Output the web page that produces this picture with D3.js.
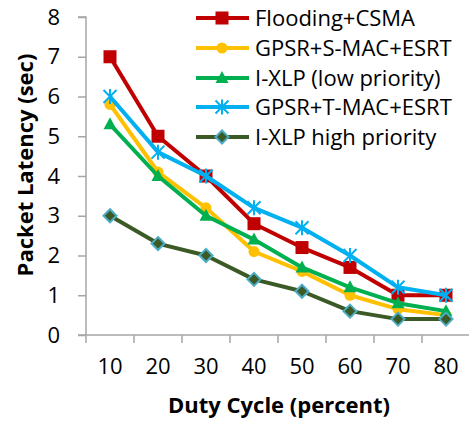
<!DOCTYPE html>
<html><head><meta charset="utf-8">
<script src="https://cdn.jsdelivr.net/npm/d3@7"></script>
<style>body{margin:0;background:#fff}svg{display:block}</style>
</head><body>
<svg id="c" width="469" height="423"></svg>
<script>
const categories = ["10","20","30","40","50","60","70","80"];
const yTicks = [0,1,2,3,4,5,6,7,8];
const seriesNames = ["Flooding+CSMA","GPSR+S-MAC+ESRT","I-XLP (low priority)","GPSR+T-MAC+ESRT","I-XLP high priority"];
const flooding = [7.0, 5.0, 4.0, 2.8, 2.2, 1.7, 1.0, 1.0];
const gpsrSmac = [5.8, 4.1, 3.2, 2.1, 1.6, 1.0, 0.65, 0.5];
const ixlpLow  = [5.3, 4.0, 3.0, 2.4, 1.7, 1.2, 0.8, 0.6];
const gpsrTmac = [6.0, 4.6, 4.0, 3.2, 2.7, 2.0, 1.2, 1.0];
const ixlpHigh = [3.0, 2.3, 2.0, 1.4, 1.1, 0.6, 0.4, 0.4];

const styles = [
  {color:"#C00000", marker:"square"},
  {color:"#FFC000", marker:"circle"},
  {color:"#00B050", marker:"triangle"},
  {color:"#00B0F0", marker:"star"},
  {color:"#3B5A26", marker:"diamond"}
];
const seriesData = [flooding, gpsrSmac, ixlpLow, gpsrTmac, ixlpHigh];

const svg = d3.select("#c");
const font = "Open Sans, sans-serif";
const x = d3.scaleBand().domain(categories).range([86, 470]);
const y = d3.scaleLinear().domain([0, 8]).range([335, 17]);
const axisColor = "#A6A6A6";

// y axis
const ya = svg.append("g").attr("transform","translate(86,0)")
  .call(d3.axisLeft(y).tickValues(yTicks).tickSize(8).tickPadding(18));
ya.select(".domain").attr("stroke",axisColor).attr("stroke-width",1.5).attr("d","M-8,17H0V335H-8");
ya.selectAll(".tick line").attr("stroke",axisColor).attr("stroke-width",1.5);
ya.selectAll(".tick text").attr("font-family",font).attr("font-size",22).attr("fill","#000");

// x axis
const xa = svg.append("g").attr("transform","translate(0,335)")
  .call(d3.axisBottom(x).tickSize(0).tickPadding(23));
xa.select(".domain").attr("stroke",axisColor).attr("stroke-width",1.5).attr("d","M86,0H470");
xa.selectAll(".tick text").attr("font-family",font).attr("font-size",22).attr("fill","#000");
const bounds = categories.map(c => x(c)).concat([470]);
svg.append("g").selectAll("line").data(bounds).join("line")
  .attr("x1",d=>d).attr("x2",d=>d).attr("y1",335).attr("y2",343)
  .attr("stroke",axisColor).attr("stroke-width",1.5);

// titles
svg.append("text").attr("x",279).attr("y",413).attr("text-anchor","middle")
  .attr("font-family",font).attr("font-weight","bold").attr("font-size",22).text("Duty Cycle (percent)");
svg.append("text").attr("transform","translate(33,165) rotate(-90)").attr("text-anchor","middle")
  .attr("font-family",font).attr("font-weight","bold").attr("font-size",22).text("Packet Latency (sec)");

function drawMarker(g, type, color, cx, cy){
  if(type==="square"){
    g.append("rect").attr("x",cx-6.5).attr("y",cy-6.5).attr("width",13).attr("height",13).attr("fill",color);
  } else if(type==="circle"){
    g.append("circle").attr("cx",cx).attr("cy",cy).attr("r",5.5).attr("fill",color);
  } else if(type==="triangle"){
    g.append("path").attr("d",`M${cx},${cy-7}L${cx+6.5},${cy+5}L${cx-6.5},${cy+5}Z`).attr("fill",color);
  } else if(type==="star"){
    const r=6.5;
    g.append("path").attr("d",`M${cx-r},${cy-r}L${cx+r},${cy+r}M${cx-r},${cy+r}L${cx+r},${cy-r}M${cx},${cy-r-1}L${cx},${cy+r+1}`)
      .attr("stroke",color).attr("stroke-width",2).attr("fill","none");
  } else if(type==="diamond"){
    g.append("path").attr("d",`M${cx},${cy-6.5}L${cx+6.5},${cy}L${cx},${cy+6.5}L${cx-6.5},${cy}Z`)
      .attr("fill",color).attr("stroke","#4BACC6").attr("stroke-width",2);
  }
}

const line = d3.line().x((d,i)=>x(categories[i])+x.bandwidth()/2).y(d=>y(d));
seriesData.forEach((vals, si) => {
  const st = styles[si];
  const g = svg.append("g");
  g.append("path").datum(vals).attr("d",line).attr("fill","none")
    .attr("stroke",st.color).attr("stroke-width",4).attr("stroke-linejoin","round");
  vals.forEach((v,i)=>drawMarker(g, st.marker, st.color, x(categories[i])+x.bandwidth()/2, y(v)));
});

// legend
const legendRows = [18, 48, 78, 107, 137];
seriesNames.forEach((name, si) => {
  const st = styles[si];
  const g = svg.append("g");
  const ly = legendRows[si];
  g.append("line").attr("x1",196).attr("x2",249).attr("y1",ly).attr("y2",ly)
    .attr("stroke",st.color).attr("stroke-width",4);
  drawMarker(g, st.marker, st.color, 222, ly);
  g.append("text").attr("x",255).attr("y",ly).attr("dy","0.35em")
    .attr("font-family",font).attr("font-size",22).attr("fill","#000").text(name);
});
</script>
</body></html>
